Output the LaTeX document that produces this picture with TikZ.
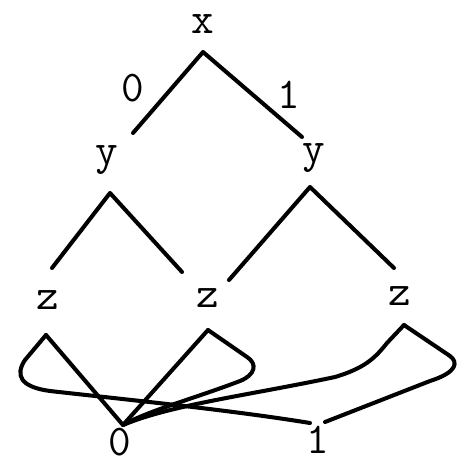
\documentclass[tikz,border=0pt]{standalone}
\usepackage{fontspec}
\begin{document}
\begin{tikzpicture}[x=0.02cm, y=-0.02cm, line width=2.3pt, line join=round, line cap=round, font=\ttfamily\fontsize{25}{25}\selectfont, inner sep=0pt]
	\useasboundingbox (0,0) rectangle (463,463);
	\path
	(203,24) node (x) {x}
	(107,160) node (yl) {y}
	(314,158) node (yr) {y}
	(48,300) node (zl) {z}
	(208,298) node (zm) {z}
	(400,296) node (zr) {z}
	(120,442) node (zero) {0}
	(318,440) node (one) {1}
	(133,88) node (lab0) {0}
	(289,95) node (lab1) {1}
	;
	\path
	(203,52) coordinate (x-b)
	(133,133) coordinate (yl-t)
	(302,137) coordinate (yr-t)
	(110,193) coordinate (yl-b)
	(52,268) coordinate (zl-t)
	(182,272) coordinate (zm-tl)
	(310,187) coordinate (yr-b)
	(229,280) coordinate (zm-tr)
	(394,268) coordinate (zr-t)
	(46,335) coordinate (zl-b)
	(208,330) coordinate (zm-b)
	(404,325) coordinate (zr-b)
	(123,425) coordinate (zero-t)
	(310,423) coordinate (one-t)
	;
	\draw (yl-t)--(x-b)--(yr-t);
	\draw (zl-t)--(yl-b)--(zm-tl);
	\draw (zm-tr)--(yr-b)--(zr-t);
	\draw (zl-b)--(zero-t)--(zm-b);
	\draw (zl-b)--(25,360) .. controls (15,375) and (20,387) .. (50,391) .. controls (130,400) and (230,410) .. (one-t);
	\draw (zm-b)--(247,357) .. controls (258,364) and (255,375) .. (240,381) .. controls (190,400) and (150,410) .. (zero-t);
	\draw (zr-b)--(387,343) .. controls (375,358) and (365,368) .. (335,377) .. controls (250,395) and (170,405) .. (zero-t);
	\draw (zr-b)--(450,356) .. controls (458,362) and (458,372) .. (430,381) -- (325,422);
\end{tikzpicture}
\end{document}
